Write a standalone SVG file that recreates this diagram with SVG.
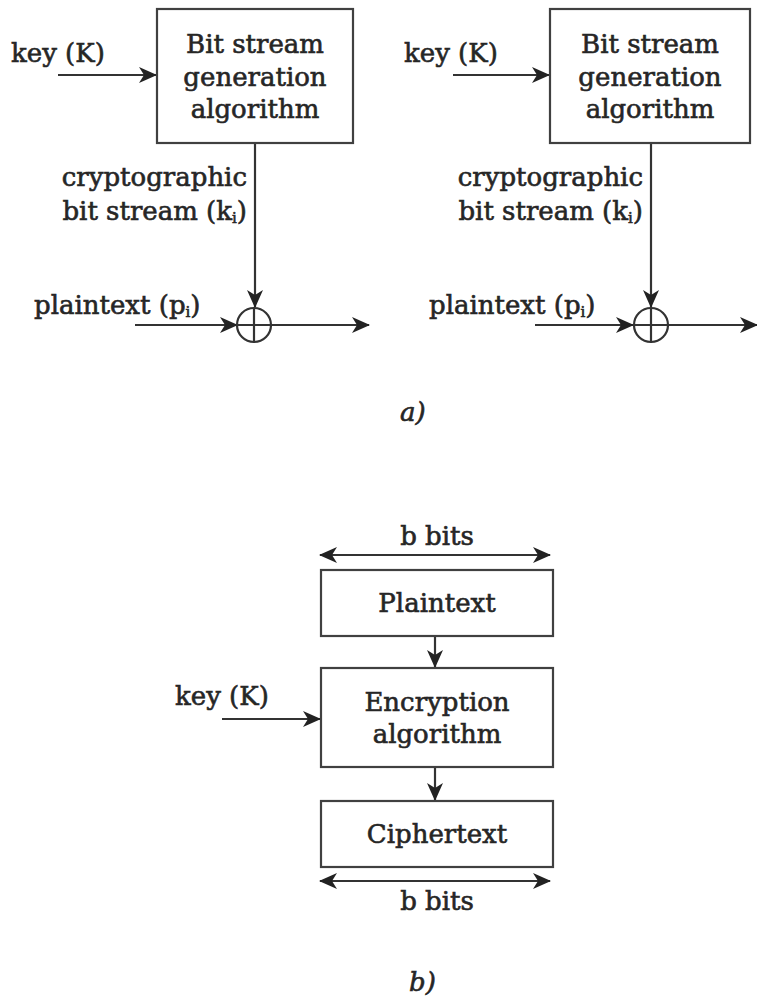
<svg xmlns="http://www.w3.org/2000/svg" width="757" height="997" viewBox="0 0 757 997">
<style>
text{font-family:"DejaVu Serif","Liberation Serif",serif;font-size:26px;fill:#262626;stroke:#262626;stroke-width:0.6}
.c{text-anchor:middle}
.e{text-anchor:end}
.it{font-style:italic}
.box{fill:#fff;stroke:#404040;stroke-width:2.2}
.ln{fill:none;stroke:#333;stroke-width:2.2}
.ar{marker-end:url(#ah)}
.dbl{marker-start:url(#ah);marker-end:url(#ah)}
</style>
<defs>
<marker id="ah" viewBox="0 0 18 16" markerWidth="18" markerHeight="16" refX="17" refY="8" orient="auto-start-reverse" markerUnits="userSpaceOnUse">
<path d="M0,0 L18,8 L0,16 L5,8 z" fill="#222"/>
</marker>
</defs>
<rect width="757" height="997" fill="#fff"/>

<g id="connectors">
<line class="ln ar" x1="58" y1="75" x2="156" y2="75"/>
<line class="ln ar" x1="255" y1="143" x2="255" y2="307"/>
<line class="ln ar" x1="135" y1="325" x2="237" y2="325"/>
<line class="ln ar" x1="272" y1="325" x2="369" y2="325"/>
<line class="ln ar" x1="453" y1="75" x2="549" y2="75"/>
<line class="ln ar" x1="651" y1="143" x2="651" y2="307"/>
<line class="ln ar" x1="535" y1="325" x2="633" y2="325"/>
<line class="ln ar" x1="668" y1="325" x2="757" y2="325"/>
<line class="ln dbl" x1="320" y1="555" x2="550" y2="555"/>
<line class="ln ar" x1="435" y1="636" x2="435" y2="667"/>
<line class="ln ar" x1="222" y1="719" x2="320" y2="719"/>
<line class="ln ar" x1="435" y1="767" x2="435" y2="800"/>
<line class="ln dbl" x1="320" y1="881" x2="550" y2="881"/>
</g>

<g id="left-generator">
<rect class="box" x="157" y="9" width="196" height="134"/>
<text class="c" x="255" y="53">Bit stream</text>
<text class="c" x="255" y="86">generation</text>
<text class="c" x="255" y="118">algorithm</text>
</g>
<g id="left-key-label"><text x="11" y="62">key (K)</text></g>
<g id="left-stream-label">
<text class="e" x="247" y="186">cryptographic</text>
<text class="e" x="247" y="220">bit stream (k<tspan font-size="15" dy="3">i</tspan><tspan dy="-3">)</tspan></text>
</g>
<g id="left-plain-label"><text x="34" y="314">plaintext (p<tspan font-size="15" dy="3">i</tspan><tspan dy="-3">)</tspan></text></g>
<g id="left-xor">
<circle cx="254" cy="325" r="17" fill="#fff" stroke="#333" stroke-width="2.2"/>
<line class="ln" x1="237" y1="325" x2="271" y2="325"/>
<line class="ln" x1="254" y1="308" x2="254" y2="342"/>
</g>

<g id="right-generator">
<rect class="box" x="550" y="9" width="200" height="134"/>
<text class="c" x="650" y="53">Bit stream</text>
<text class="c" x="650" y="86">generation</text>
<text class="c" x="650" y="118">algorithm</text>
</g>
<g id="right-key-label"><text x="404" y="62">key (K)</text></g>
<g id="right-stream-label">
<text class="e" x="643" y="186">cryptographic</text>
<text class="e" x="643" y="220">bit stream (k<tspan font-size="15" dy="3">i</tspan><tspan dy="-3">)</tspan></text>
</g>
<g id="right-plain-label"><text x="429" y="314">plaintext (p<tspan font-size="15" dy="3">i</tspan><tspan dy="-3">)</tspan></text></g>
<g id="right-xor">
<circle cx="651" cy="325" r="17" fill="#fff" stroke="#333" stroke-width="2.2"/>
<line class="ln" x1="634" y1="325" x2="668" y2="325"/>
<line class="ln" x1="651" y1="308" x2="651" y2="342"/>
</g>

<g id="caption-a"><text class="it" x="400" y="421">a)</text></g>

<g id="top-bits"><text class="c" x="437" y="545">b bits</text></g>
<g id="plaintext-block">
<rect class="box" x="321" y="570" width="232" height="66"/>
<text class="c" x="437" y="612">Plaintext</text>
</g>
<g id="encryption">
<rect class="box" x="321" y="668" width="232" height="99"/>
<text class="c" x="437" y="711">Encryption</text>
<text class="c" x="437" y="743">algorithm</text>
</g>
<g id="b-key-label"><text x="175" y="705">key (K)</text></g>
<g id="ciphertext-block">
<rect class="box" x="321" y="801" width="232" height="66"/>
<text class="c" x="437" y="843">Ciphertext</text>
</g>
<g id="bottom-bits"><text class="c" x="437" y="910">b bits</text></g>
<g id="caption-b"><text class="it" x="409" y="991">b)</text></g>
</svg>
